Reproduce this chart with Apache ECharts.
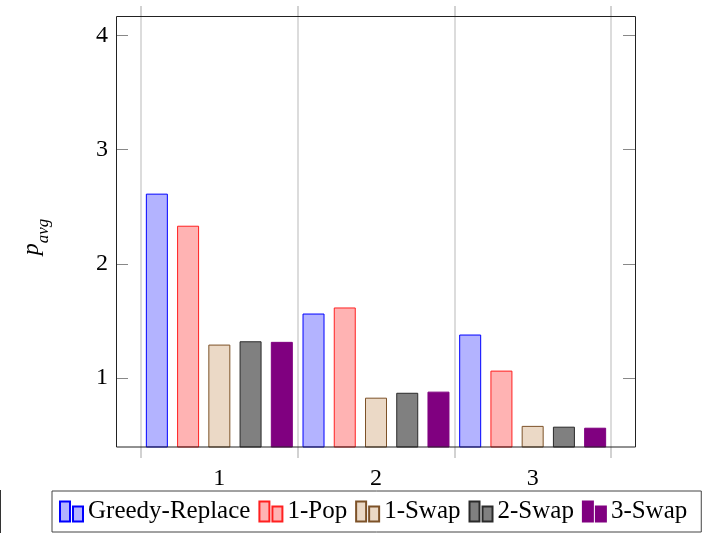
<!DOCTYPE html>
<html><head><meta charset="utf-8">
<script src="https://cdn.jsdelivr.net/npm/echarts@6/dist/echarts.min.js"></script>
<style>html,body{margin:0;padding:0;background:#fff}#c{width:715px;height:533px}</style>
</head><body><div id="c"></div>
<script>
const categories = ['1', '2', '3'];
const seriesNames = ['Greedy-Replace', '1-Pop', '1-Swap', '2-Swap', '3-Swap'];
const greedyReplace = [2.614, 1.564, 1.380];
const onePop = [2.333, 1.617, 1.064];
const oneSwap = [1.292, 0.827, 0.580];
const twoSwap = [1.321, 0.870, 0.573];
const threeSwap = [1.316, 0.880, 0.564];
const yTicks = [1, 2, 3, 4];
const yMin = 0.395, yMax = 4.17;

const fills = ['#b3b3ff', '#ffb3b3', '#ebd9c6', '#808080', '#800080'];
const borders = ['#0000ff', '#ff2020', '#7d5228', '#2a2a2a', '#800080'];
const allValues = [greedyReplace, onePop, oneSwap, twoSwap, threeSwap];
const FONT = "'Liberation Serif', 'Times New Roman', serif";

const chart = echarts.init(document.getElementById('c'), null, {renderer: 'canvas'});
const legendIcon = 'path://M0,0H10V20H0Z M13,5H23V20H13Z';

const series = seriesNames.map((name, i) => ({
  name: name,
  type: 'bar',
  data: allValues[i],
  barWidth: 22,
  barGap: '42%',
  itemStyle: {color: fills[i], borderColor: borders[i], borderWidth: 1},
  emphasis: {disabled: true}
}));

chart.setOption({
  animation: false,
  backgroundColor: '#fff',
  textStyle: {fontFamily: FONT},
  grid: {left: 141, right: 104, top: 16, bottom: 86, containLabel: false},
  xAxis: [{
    type: 'category', data: categories, position: 'bottom',
    axisLine: {show: false},
    axisTick: {show: true, inside: false, length: 11, lineStyle: {color: '#c4c4c4', width: 1.5}},
    splitLine: {show: true, lineStyle: {color: '#d0d0d0', width: 1.5}},
    axisLabel: {color: '#000', fontFamily: FONT, fontSize: 24, margin: 20}
  }, {
    type: 'category', data: categories, position: 'top',
    axisLine: {show: false},
    axisTick: {show: true, inside: false, length: 10, lineStyle: {color: '#c4c4c4', width: 1.5}},
    splitLine: {show: false},
    axisLabel: {show: false}
  }],
  yAxis: [{
    type: 'value', min: yMin, max: yMax, position: 'left', offset: 25,
    axisLine: {show: false},
    axisTick: {show: true, inside: true, length: 12, customValues: yTicks, lineStyle: {color: '#888', width: 1}},
    axisLabel: {show: true, customValues: yTicks, color: '#000', fontFamily: FONT, fontSize: 24, margin: 8},
    splitLine: {show: false}
  }, {
    type: 'value', min: yMin, max: yMax, position: 'right', offset: 24,
    axisLine: {show: false},
    axisTick: {show: true, inside: true, length: 12, customValues: yTicks, lineStyle: {color: '#888', width: 1}},
    axisLabel: {show: false},
    splitLine: {show: false}
  }],
  legend: {
    data: seriesNames,
    left: 52, top: 491,
    orient: 'horizontal',
    icon: legendIcon,
    itemWidth: 23, itemHeight: 20,
    itemGap: 8,
    padding: [8, 14, 8, 7],
    borderColor: '#444', borderWidth: 1,
    textStyle: {color: '#000', fontFamily: FONT, fontSize: 25},
    selectedMode: false
  },
  graphic: [
    {type: 'rect', shape: {x: 116.5, y: 16.5, width: 519, height: 430.5},
     style: {fill: null, stroke: '#222', lineWidth: 1}, silent: true, z: 100},
    {type: 'line', shape: {x1: 0.5, y1: 490, x2: 0.5, y2: 533},
     style: {stroke: '#333', lineWidth: 1}, silent: true},
    {type: 'text', x: 31, y: 237, rotation: Math.PI / 2,
     style: {text: '{p|p}{s|avg}', align: 'center', verticalAlign: 'middle',
       rich: {
         p: {fontFamily: FONT, fontStyle: 'italic', fontSize: 24, fill: '#000', verticalAlign: 'bottom', lineHeight: 26},
         s: {fontFamily: FONT, fontStyle: 'italic', fontSize: 17, fill: '#000', verticalAlign: 'bottom', lineHeight: 26, padding: [0, 0, -8, 0]}
       }}, silent: true}
  ],
  series: series
});
</script>
</body></html>
